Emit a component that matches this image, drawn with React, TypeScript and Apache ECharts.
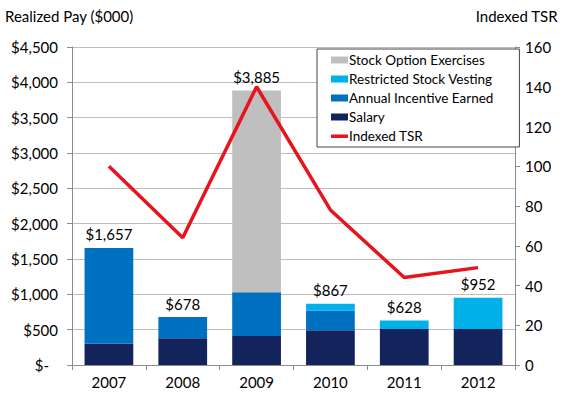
import React, { useEffect, useRef } from "react";
import * as echarts from "echarts";

const years = ["2007", "2008", "2009", "2010", "2011", "2012"];
const salary = [300, 380, 410, 490, 510, 510];
const annualIncentive = [1357, 298, 620, 280, 0, 0];
const restrictedStock = [0, 0, 0, 97, 118, 442];
const stockOptions = [0, 0, 2855, 0, 0, 0];
const indexedTSR = [100, 64, 140, 78, 44, 49];
const totals = years.map((_, i) => salary[i] + annualIncentive[i] + restrictedStock[i] + stockOptions[i]);

const FONT = "Lato, 'Open Sans', sans-serif";
const lineIcon = "path://M0,0L18,0L18,0.01Z M0,2L18,2L18,5.5L0,5.5Z M0,7L18,7L18,6.99Z";

export default function App() {
  const ref = useRef<HTMLDivElement>(null);
  useEffect(() => {
    const chart = echarts.init(ref.current!, null, { renderer: "svg" });
    const axisGray = "#8C8C8C";
    chart.setOption({
      animation: false,
      textStyle: { fontFamily: FONT },
      grid: { left: 72, right: 49, top: 47, bottom: 47 },
      graphic: [
        { type: "text", left: 5, top: 8, style: { text: "Realized Pay ($000)", font: `15px ${FONT}`, fill: "#000" } },
        { type: "text", right: 6, top: 8, style: { text: "Indexed TSR", font: `15px ${FONT}`, fill: "#000" } },
      ],
      legend: {
        orient: "vertical",
        left: 317,
        top: 49,
        padding: [4, 26, 4, 14],
        itemGap: 5,
        itemWidth: 17,
        itemHeight: 7,
        borderColor: "#444",
        borderWidth: 1,
        backgroundColor: "#fff",
        textStyle: { fontSize: 13.5, color: "#000", fontFamily: FONT, padding: [0, 0, 0, -4] },
        data: [
          { name: "Stock Option Exercises", icon: "rect" },
          { name: "Restricted Stock Vesting", icon: "rect" },
          { name: "Annual Incentive Earned", icon: "rect" },
          { name: "Salary", icon: "rect" },
          { name: "Indexed TSR", icon: lineIcon },
        ],
      },
      xAxis: {
        type: "category",
        data: years,
        axisLine: { lineStyle: { color: axisGray } },
        axisTick: { show: true, length: 5, lineStyle: { color: axisGray } },
        axisLabel: { fontSize: 15, color: "#000", margin: 9, fontFamily: FONT },
      },
      yAxis: [
        {
          type: "value",
          min: 0,
          max: 4500,
          interval: 500,
          axisLine: { show: true, lineStyle: { color: axisGray } },
          axisTick: { show: true, length: 5, lineStyle: { color: axisGray } },
          splitLine: { lineStyle: { color: "#BFBFBF" } },
          axisLabel: {
            fontSize: 15,
            color: "#000",
            margin: 14,
            fontFamily: FONT,
            formatter: (v: number) => (v === 0 ? "{z|$-}" : "$" + v.toLocaleString("en-US")),
            rich: { z: { fontSize: 15, color: "#000", fontFamily: FONT, padding: [0, 9, 0, 0] } },
          },
        },
        {
          type: "value",
          min: 0,
          max: 160,
          interval: 20,
          axisLine: { show: true, lineStyle: { color: axisGray } },
          axisTick: { show: true, length: 5, lineStyle: { color: axisGray } },
          splitLine: { show: false },
          axisLabel: { fontSize: 15, color: "#000", margin: 10, fontFamily: FONT },
        },
      ],
      series: [
        { name: "Salary", type: "bar", stack: "pay", data: salary, barWidth: "66%", itemStyle: { color: "#13235B" } },
        { name: "Annual Incentive Earned", type: "bar", stack: "pay", data: annualIncentive, itemStyle: { color: "#0070C0" } },
        { name: "Restricted Stock Vesting", type: "bar", stack: "pay", data: restrictedStock, itemStyle: { color: "#00B0E8" } },
        { name: "Stock Option Exercises", type: "bar", stack: "pay", data: stockOptions, itemStyle: { color: "#BFBFBF" } },
        {
          name: "Totals",
          type: "bar",
          data: totals,
          barWidth: "66%",
          barGap: "-100%",
          silent: true,
          itemStyle: { color: "rgba(0,0,0,0)" },
          z: 1,
          label: {
            show: true,
            position: "top",
            distance: 6,
            fontSize: 15,
            color: "#000",
            fontFamily: FONT,
            formatter: (p: any) => "$" + p.value.toLocaleString("en-US"),
          },
        },
        {
          name: "Indexed TSR",
          type: "line",
          yAxisIndex: 1,
          data: indexedTSR,
          symbol: "none",
          lineStyle: { color: "#E8141C", width: 3.5 },
          itemStyle: { color: "#E8141C" },
          z: 5,
        },
      ],
    });
    return () => chart.dispose();
  }, []);
  return <div ref={ref} style={{ width: 564, height: 412, position: "absolute", left: 0, top: 0 }} />;
}
